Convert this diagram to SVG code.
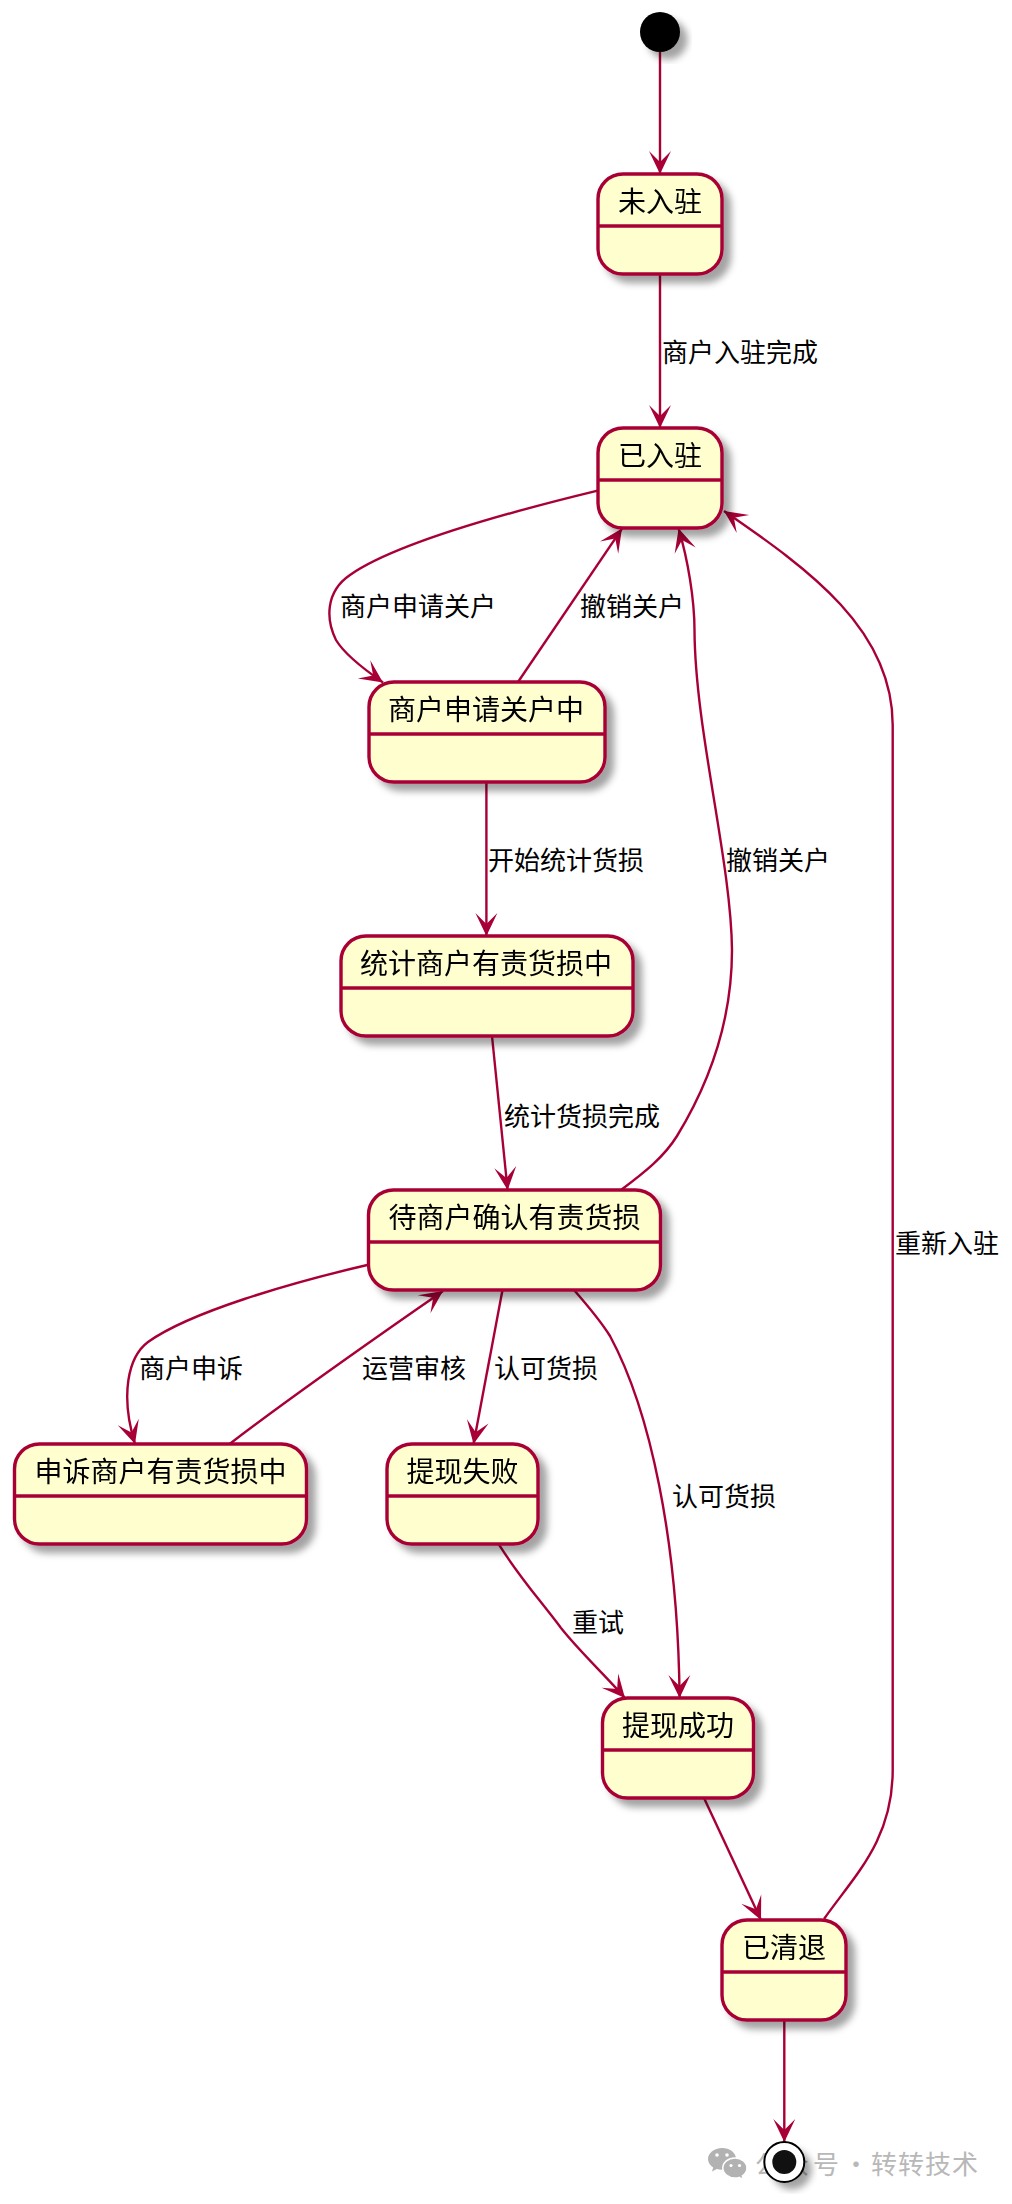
<svg xmlns="http://www.w3.org/2000/svg" width="1012" height="2204" viewBox="0 0 1012 2204">
<style>
text{font-family:"Noto Sans CJK SC","Liberation Sans",sans-serif;fill:#000}
.t{font-size:28px;text-anchor:middle}
.l{font-size:26px}
.b{fill:#FEFECE;stroke:#A80036;stroke-width:3.4}
.d{stroke:#A80036;stroke-width:3.4}
.e{fill:none;stroke:#A80036;stroke-width:2.4;marker-end:url(#a)}
.wm{font-size:26px;fill:#b8b8b8}
.wi{fill:#b2b2b2}
.we{fill:#fff}
</style>
<defs>
<marker id="a" markerUnits="userSpaceOnUse" markerWidth="28" markerHeight="26" refX="24" refY="13" orient="auto" overflow="visible"><path d="M24,13L1,2L12,13L1,24Z" fill="#A80036"/></marker>
<filter id="s" x="-20%" y="-20%" width="150%" height="150%"><feDropShadow dx="7.500" dy="7.500" stdDeviation="3.500" flood-color="#000" flood-opacity=".36"/></filter>
</defs>
<rect width="1012" height="2204" fill="#fff"/>
<g id="watermark">
<path class="wi" d="M722,2148c-7.700,0-14,5-14,11c0,3.500,2,6.500,5.200,8.500l-1.200,4l4.800-2.500c1.600.4,3.300.7,5.200.7c7.700,0,14-5,14-11S729.700,2148,722,2148z"/>
<path class="wi" d="M735,2158c-6.800,0-12.200,4.500-12.200,10s5.400,10,12.200,10c1.500,0,2.900-.2,4.200-.6l4.300,2.300l-1.100-3.800c2.800-1.800,4.600-4.700,4.600-7.900C747,2162.500,741.700,2158,735,2158z" stroke="#fff" stroke-width="1.500"/>
<circle class="we" cx="717" cy="2155" r="1.800"/><circle class="we" cx="727" cy="2155" r="1.800"/>
<circle class="we" cx="731" cy="2165.500" r="1.600"/><circle class="we" cx="739.500" cy="2165.500" r="1.600"/>
<text class="wm" y="2174" x="755 783 813 839 843 863 871 898 925 952">公众号 · 转转技术</text>
</g>
<g id="connectors">
<path class="e" d="M660,52V174"/>
<path class="e" d="M660,274V428"/>
<path class="e" d="M597.700,490.600C530,507 400,540 350,575C325,592 326,620 336,640C345,655 365,670 383,682.400"/>
<path class="e" d="M518,682L622,528.600"/>
<path class="e" d="M621,1190C645,1172 664,1157 677,1136C710,1082 732,1020 732,950C731,860 695,730 694.500,630C694.500,600 688,560 678.600,528.600"/>
<path class="e" d="M824,1919C855,1875 892.700,1840 892.700,1770L892.700,725C892.700,630 810,570 724,511"/>
<path class="e" d="M486.400,782V936"/>
<path class="e" d="M492,1036L507.600,1190"/>
<path class="e" d="M367.300,1265C290,1283 190,1312 148,1342C128,1357 120,1395 135,1444"/>
<path class="e" d="M229.600,1444C300,1390 380,1335 443,1291"/>
<path class="e" d="M502.500,1290L473.500,1444"/>
<path class="e" d="M574,1290C588,1306 600,1320 610,1336C650,1410 678,1540 679.600,1698"/>
<path class="e" d="M499,1544.700C520,1578 540,1600 561,1628C580,1652 605,1675 625,1698"/>
<path class="e" d="M704,1798L761,1920"/>
<path class="e" d="M784.300,2020V2142"/>
</g>
<g id="labels">
<text class="l" x="662" y="362">商户入驻完成</text>
<text class="l" x="340" y="616">商户申请关户</text>
<text class="l" x="580" y="616">撤销关户</text>
<text class="l" x="488" y="870">开始统计货损</text>
<text class="l" x="726" y="870">撤销关户</text>
<text class="l" x="504" y="1126">统计货损完成</text>
<text class="l" x="139" y="1378">商户申诉</text>
<text class="l" x="362" y="1378">运营审核</text>
<text class="l" x="494" y="1378">认可货损</text>
<text class="l" x="672" y="1506">认可货损</text>
<text class="l" x="572" y="1632">重试</text>
<text class="l" x="895" y="1253">重新入驻</text>
</g>
<g id="start" filter="url(#s)"><circle cx="660" cy="32" r="20" fill="#000"/></g>
<g id="n1" filter="url(#s)"><rect class="b" x="598" y="174" width="124" height="100" rx="25"/><line class="d" x1="598" y1="226" x2="722" y2="226"/><text class="t" x="660" y="212">未入驻</text></g>
<g id="n2" filter="url(#s)"><rect class="b" x="598" y="428" width="124" height="100" rx="25"/><line class="d" x1="598" y1="480" x2="722" y2="480"/><text class="t" x="660" y="466">已入驻</text></g>
<g id="n3" filter="url(#s)"><rect class="b" x="369" y="682" width="236" height="100" rx="25"/><line class="d" x1="369" y1="734" x2="605" y2="734"/><text class="t" x="486" y="720">商户申请关户中</text></g>
<g id="n4" filter="url(#s)"><rect class="b" x="341" y="936" width="292" height="100" rx="25"/><line class="d" x1="341" y1="988" x2="633" y2="988"/><text class="t" x="486" y="974">统计商户有责货损中</text></g>
<g id="n5" filter="url(#s)"><rect class="b" x="368.500" y="1190" width="292" height="100" rx="25"/><line class="d" x1="368.500" y1="1242" x2="660.500" y2="1242"/><text class="t" x="514.500" y="1228">待商户确认有责货损</text></g>
<g id="n6" filter="url(#s)"><rect class="b" x="14.500" y="1444" width="292" height="100" rx="25"/><line class="d" x1="14.500" y1="1496" x2="306.500" y2="1496"/><text class="t" x="160.500" y="1482">申诉商户有责货损中</text></g>
<g id="n7" filter="url(#s)"><rect class="b" x="387" y="1444" width="151" height="100" rx="25"/><line class="d" x1="387" y1="1496" x2="538" y2="1496"/><text class="t" x="462.500" y="1482">提现失败</text></g>
<g id="n8" filter="url(#s)"><rect class="b" x="602.500" y="1698" width="151" height="100" rx="25"/><line class="d" x1="602.500" y1="1750" x2="753.500" y2="1750"/><text class="t" x="678" y="1736">提现成功</text></g>
<g id="n9" filter="url(#s)"><rect class="b" x="722" y="1920" width="124" height="100" rx="25"/><line class="d" x1="722" y1="1972" x2="846" y2="1972"/><text class="t" x="784" y="1958">已清退</text></g>
<g id="end"><circle cx="784.300" cy="2162" r="20" fill="#fff" filter="url(#s)"/><circle cx="784.300" cy="2162" r="20" fill="#fff" stroke="#000" stroke-width="2"/><circle cx="784.300" cy="2162" r="12" fill="#111"/></g>
</svg>
